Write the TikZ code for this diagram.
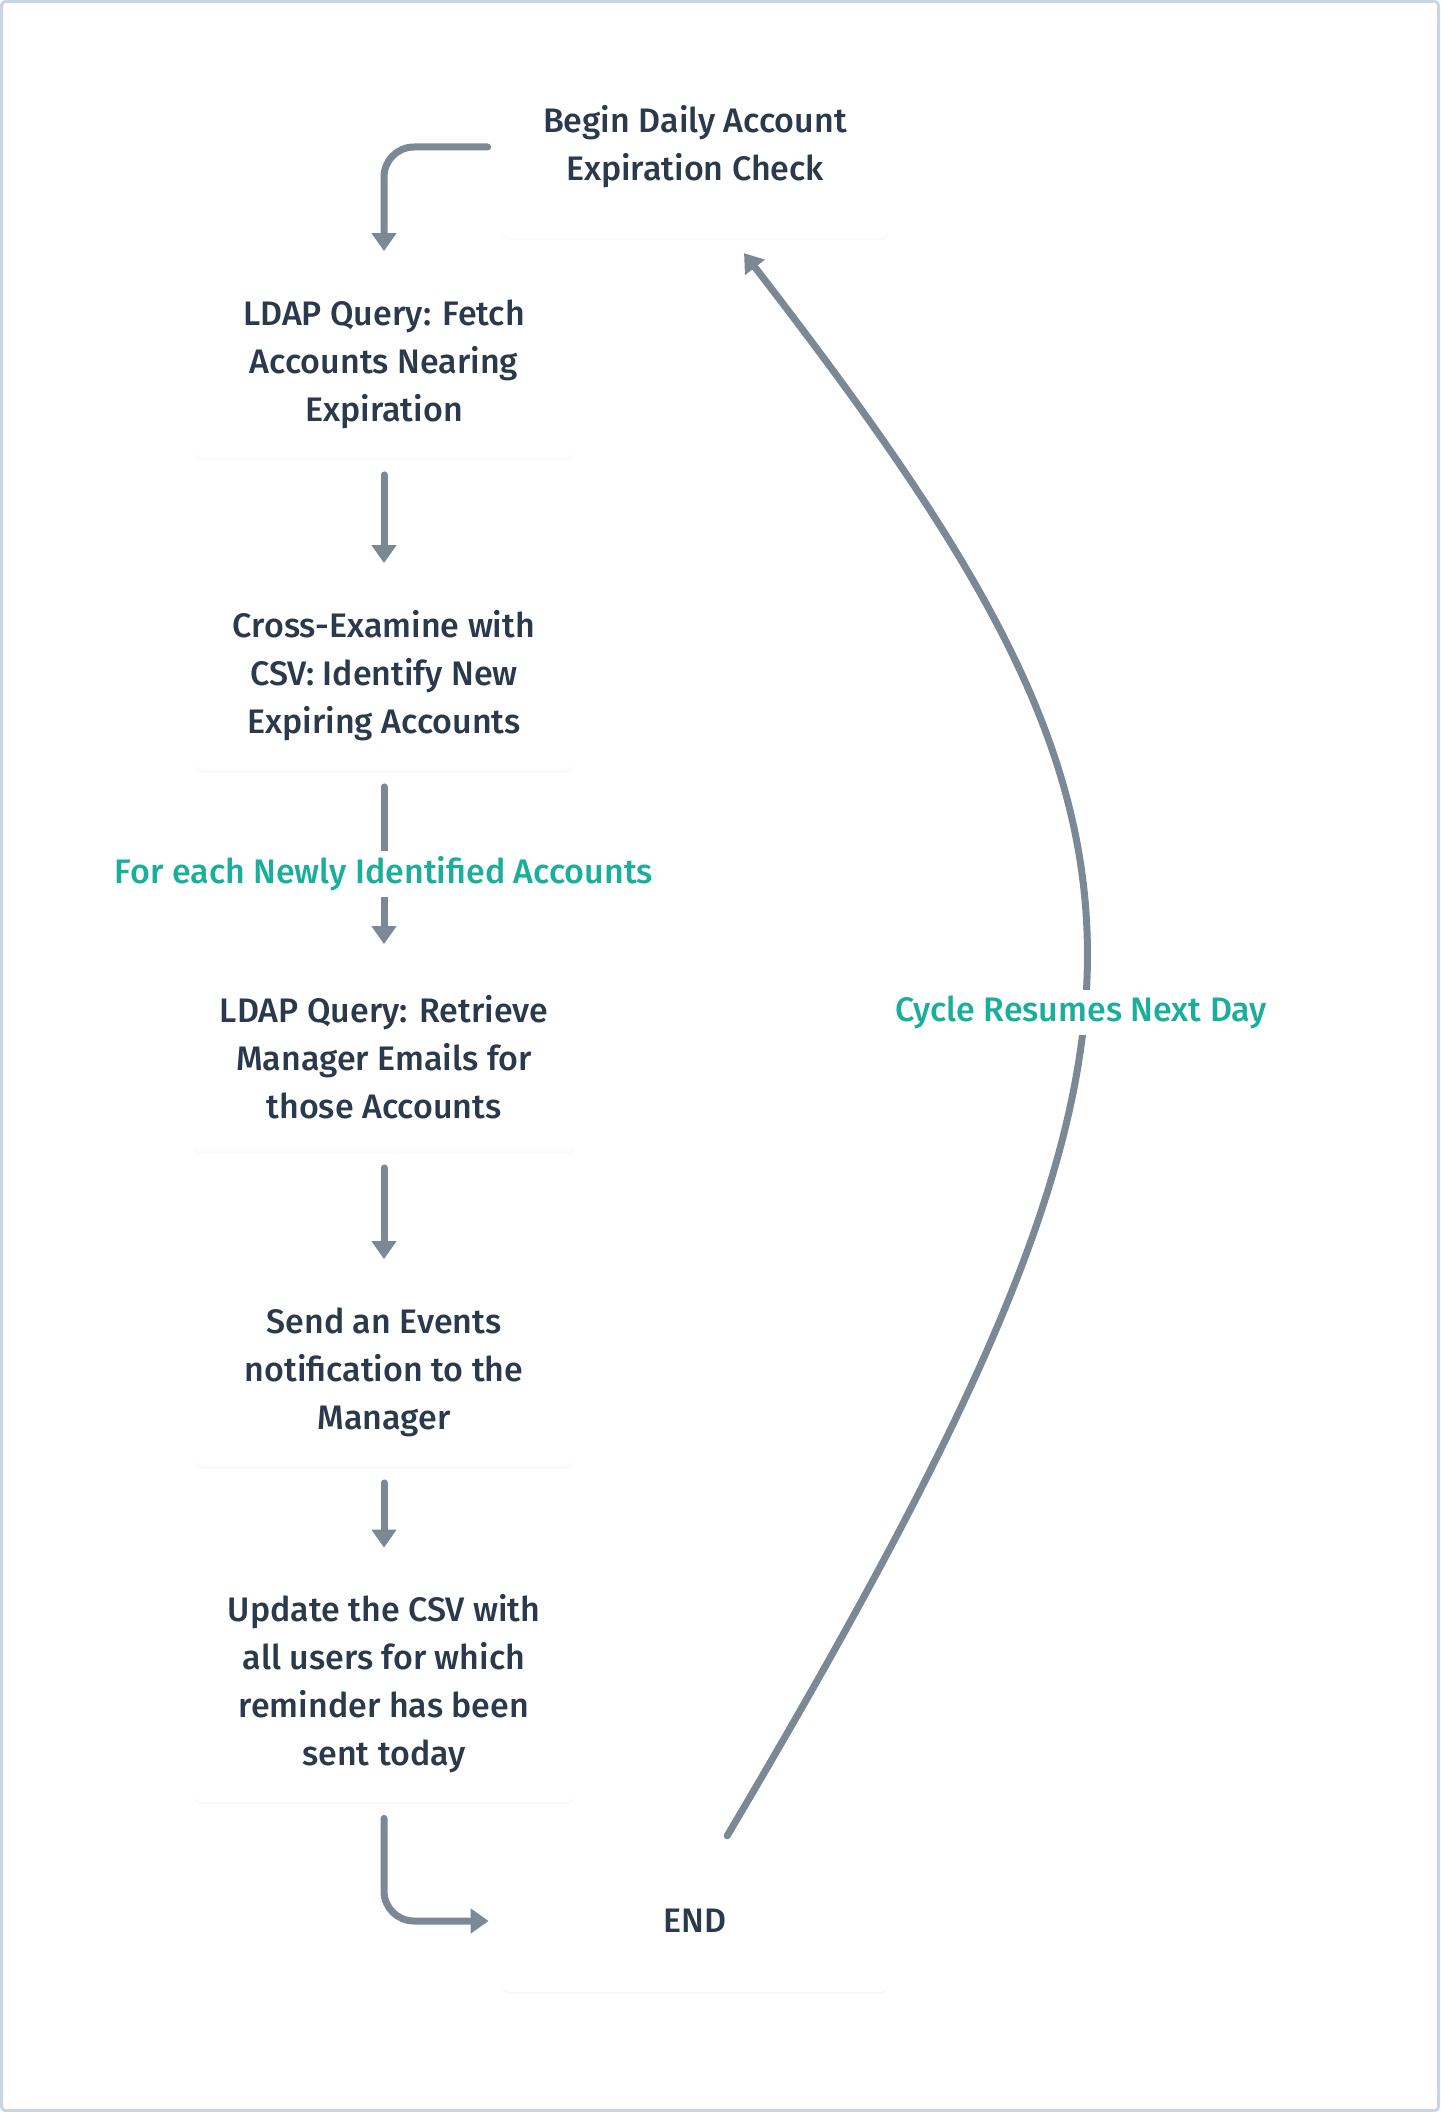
\documentclass[tikz,border=0pt]{standalone}
\usepackage{fontspec}
\setmainfont{Fira Sans}[UprightFont=* Medium]
\usepackage{tikz}
\usetikzlibrary{arrows.meta,positioning,shadows}
\definecolor{ink}{HTML}{2A394B}
\definecolor{wire}{HTML}{7B8896}
\definecolor{cyclegreen}{HTML}{1AAE9D}
\definecolor{frameblue}{HTML}{C9D5E0}

\begin{document}
\begin{tikzpicture}[x=0.5pt,y=-0.5pt,font=\fontsize{17}{24}\selectfont,
      >={Triangle[width=12pt,length=9pt]},
      box/.style={rounded corners=4pt,fill=white,text=ink,align=center,
                  drop shadow={shadow xshift=0pt,shadow yshift=-1pt,opacity=0.05},
                  minimum width=191pt,minimum height=94.5pt,inner sep=0pt},
      flow/.style={draw=wire,line width=3.5pt,line cap=round,->,
                   shorten <=8pt,shorten >=9pt},
      tag/.style={text=cyclegreen,fill=white,inner xsep=5pt,inner ysep=3pt}]
    \useasboundingbox (0,0) rectangle (1440,2112);
    \draw[frameblue,line width=1.5pt,rounded corners=2pt] (1.5,1.5) rectangle (1438.5,2110.5);
    % steps
    \node[box,minimum width=193pt,minimum height=91.5pt] (begin) at (695,147)
      {Begin Daily Account\\Expiration Check};
    \node[box] (fetch) at (384,364)
      {LDAP Query: Fetch\\Accounts Nearing\\Expiration};
    \node[box] (cross) at (384,676)
      {Cross-Examine with\\CSV: Identify New\\Expiring Accounts};
    \node[box] (retrieve) at (384,1057)
      {LDAP Query: Retrieve\\Manager Emails for\\those Accounts};
    \node[box] (send) at (384,1372)
      {Send an Events\\notification to the\\Manager};
    \node[box,minimum height=118pt] (update) at (384,1684)
      {Update the CSV with\\all users for which\\reminder has been\\sent today};
    \node[box,minimum width=193pt,minimum height=71pt] (end) at (695,1921) {END};
    % connectors
    \draw[flow,rounded corners=15pt,shorten <=7pt] (begin.west) -| (fetch.north);
    \draw[flow] (fetch) -- (cross);
    \draw[flow] (cross) -- node[tag,pos=0.54]{For each Newly Identified Accounts} (retrieve);
    \draw[flow] (retrieve) -- (send);
    \draw[flow] (send) -- (update);
    \draw[flow,rounded corners=15pt,shorten >=6.5pt] (update.south) |- (end.west);
    \draw[flow] ([xshift=12pt]end.north) .. controls (1210,1020) and (1196,838) ..
      node[tag,pos=0.46]{Cycle Resumes Next Day} ([xshift=19pt]begin.south);
  \end{tikzpicture}
\end{document}
